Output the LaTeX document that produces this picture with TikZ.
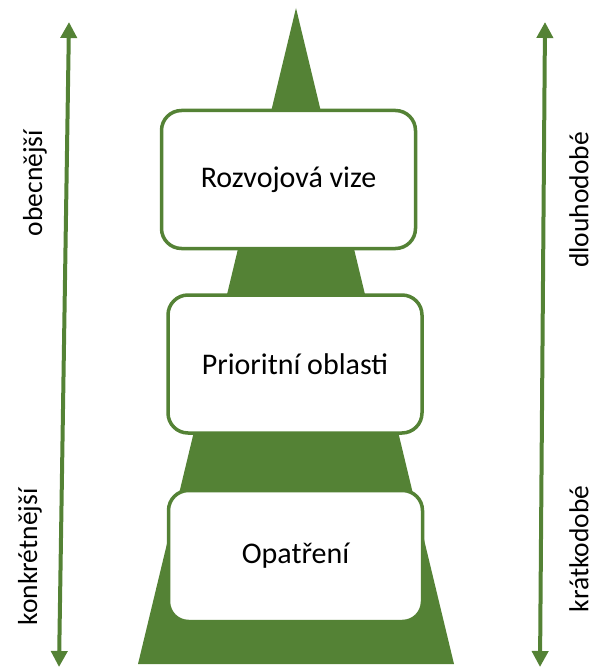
\documentclass[tikz,border=0pt]{standalone}
\usepackage{fontspec}
\setmainfont{Carlito}
\usetikzlibrary{arrows.meta,positioning}
\definecolor{treegreen}{HTML}{548235}

\begin{document}
\begin{tikzpicture}[
  x=1pt,y=-1pt,
  box/.style={draw=treegreen,fill=white,line width=3.5pt,rounded corners=20pt,minimum width=254pt,minimum height=138pt,align=center,font=\fontsize{30}{36}\selectfont},
  side/.style={rotate=90,inner sep=1pt,font=\fontsize{27.5}{33}\selectfont},
  arrow/.style={{Triangle[width=16pt,length=16pt]}-{Triangle[width=16pt,length=16pt]},line width=4pt,draw=treegreen}
]
\useasboundingbox (0,0) rectangle (595,668);
\fill[treegreen] (296,8) -- (454,664) -- (138,664) -- cycle;
\node[box] (vize) at (288.5,179.5) {Rozvojová vize};
\node[box] (oblasti) at (295,364) {Prioritní oblasti};
\node[box,minimum height=131pt] (opatreni) at (295.5,556) {Opatření};
\coordinate (ltop) at (69,22);
\coordinate (lbot) at (59,667);
\coordinate (rtop) at (545,22);
\coordinate (rbot) at (540,667);
\draw[arrow] (ltop) -- (lbot);
\draw[arrow] (rtop) -- (rbot);
\node[side] (obecne) at (35,183) {obecnější};
\node[side] (konkretne) at (30,557) {konkrétnější};
\node[side] (dlouho) at (579,200) {dlouhodobé};
\node[side] (kratko) at (579,549) {krátkodobé};
\end{tikzpicture}
\end{document}
